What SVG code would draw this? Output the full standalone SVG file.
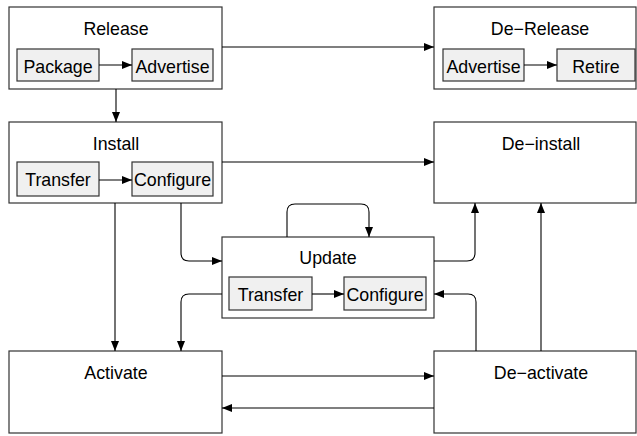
<svg xmlns="http://www.w3.org/2000/svg" width="637" height="436" viewBox="0 0 637 436">
<defs>
<marker id="ah" viewBox="0 0 10 8" refX="10" refY="4" markerWidth="10" markerHeight="8" markerUnits="userSpaceOnUse" orient="auto">
<path d="M0,0 L10,4 L0,8 Z" fill="#000"/>
</marker>
<style>
.outer{fill:#fff;stroke:#333;stroke-width:1.2}
.inner{fill:#f0f0f0;stroke:#333;stroke-width:1.2}
text{font-family:"Liberation Sans",Arial,sans-serif;font-size:17.8px;fill:#000;text-anchor:middle}
.c{fill:none;stroke:#000;stroke-width:1.1;marker-end:url(#ah)}
</style>
</defs>
<rect width="637" height="436" fill="#fff"/>
<g id="release">
<rect class="outer" x="9" y="7" width="213" height="82"/>
<text x="116" y="35">Release</text>
<g id="release-package"><rect class="inner" x="17" y="49" width="82" height="32"/><text x="58" y="72.5">Package</text></g>
<g id="release-advertise"><rect class="inner" x="132" y="49" width="81" height="32"/><text x="172.5" y="72.5">Advertise</text></g>
</g>
<g id="derelease">
<rect class="outer" x="434" y="7" width="202" height="82"/>
<text x="540" y="35">De−Release</text>
<g id="derelease-advertise"><rect class="inner" x="443" y="49" width="81" height="32"/><text x="483.5" y="72.5">Advertise</text></g>
<g id="derelease-retire"><rect class="inner" x="557" y="49" width="78" height="32"/><text x="596" y="72.5">Retire</text></g>
</g>
<g id="install">
<rect class="outer" x="9" y="122" width="213" height="81"/>
<text x="116" y="150">Install</text>
<g id="install-transfer"><rect class="inner" x="17" y="162" width="82" height="34"/><text x="58" y="186">Transfer</text></g>
<g id="install-configure"><rect class="inner" x="132" y="162" width="81" height="34"/><text x="172.5" y="186">Configure</text></g>
</g>
<g id="deinstall">
<rect class="outer" x="434" y="122" width="202" height="81"/>
<text x="541" y="150">De−install</text>
</g>
<g id="update">
<rect class="outer" x="222" y="237" width="212" height="81"/>
<text x="328" y="264">Update</text>
<g id="update-transfer"><rect class="inner" x="229" y="277" width="83" height="33"/><text x="270.5" y="301">Transfer</text></g>
<g id="update-configure"><rect class="inner" x="344" y="277" width="82" height="33"/><text x="385" y="301">Configure</text></g>
</g>
<g id="activate">
<rect class="outer" x="9" y="351" width="213" height="82"/>
<text x="116" y="378.5">Activate</text>
</g>
<g id="deactivate">
<rect class="outer" x="434" y="351" width="202" height="82"/>
<text x="541" y="378.5">De−activate</text>
</g>
<g id="connectors">
<path class="c" d="M99,65 H132"/>
<path class="c" d="M524,65 H557"/>
<path class="c" d="M99,180 H132"/>
<path class="c" d="M312,294 H344"/>
<path class="c" d="M222,47 H434"/>
<path class="c" d="M116,89 V122"/>
<path class="c" d="M222,162 H434"/>
<path class="c" d="M115,203 V351"/>
<path class="c" d="M181,203 V253 Q181,261 189,261 H222"/>
<path class="c" d="M287,237 V212 Q287,204 295,204 H361 Q369,204 369,212 V237"/>
<path class="c" d="M434,261 H467 Q475,261 475,253 V203"/>
<path class="c" d="M476,351 V302 Q476,294 468,294 H434"/>
<path class="c" d="M222,294 H189 Q181,294 181,302 V351"/>
<path class="c" d="M541,351 V203"/>
<path class="c" d="M222,376 H434"/>
<path class="c" d="M434,408 H222"/>
</g>
</svg>
